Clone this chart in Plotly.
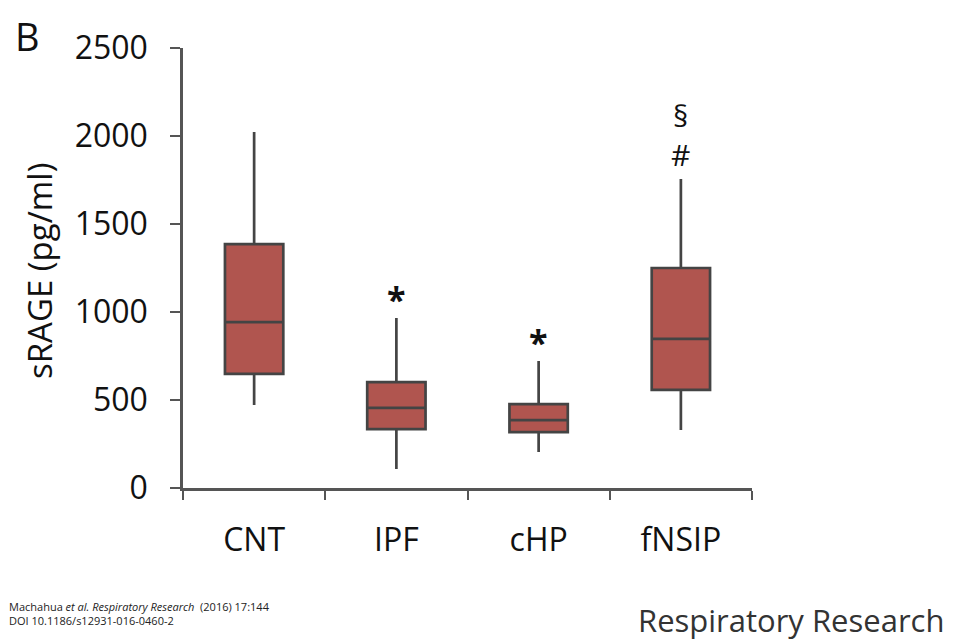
import plotly.graph_objects as go

categories = ["CNT", "IPF", "cHP", "fNSIP"]
lower_whisker = [472, 108, 205, 330]
q1_values = [648, 335, 318, 557]
median_values = [943, 455, 386, 847]
q3_values = [1386, 602, 477, 1250]
upper_whisker = [2023, 966, 722, 1756]
sig_labels = ["", "*", "*", "§<br>#"]
y_ticks = [0, 500, 1000, 1500, 2000, 2500]

# page body has an 8px margin; figure coords = screen coords - 8
OFF = 8
W, H = 953 - OFF, 644 - OFF
L, T = 183 - OFF, 48 - OFF
pw, ph = 569, 440
R, B = W - L - pw, H - T - ph

xpos = [i + 0.5 for i in range(len(categories))]

fig = go.Figure()
fig.add_trace(go.Box(
    x=xpos, q1=q1_values, median=median_values, q3=q3_values,
    lowerfence=lower_whisker, upperfence=upper_whisker,
    width=0.41, whiskerwidth=0,
    fillcolor="#B0554F", line=dict(color="#444444", width=2.7),
    boxpoints=False, hoverinfo="skip", showlegend=False,
))

font = "Open Sans, DejaVu Sans, sans-serif"
narrow = "Liberation Sans Narrow, Open Sans, sans-serif"
ann = []
for x, top, lab in zip(xpos, upper_whisker, sig_labels):
    if lab:
        star = lab == "*"
        ann.append(dict(x=x, y=top, xref="x", yref="y", text=("<b>*</b>" if star else lab),
                        showarrow=False, yanchor="bottom", yshift=(-6 if star else 2),
                        font=dict(family=font, size=(34 if star else 30), color="#111")))

def px(x):
    return (x - OFF - L) / pw

def py(y):
    return (T + ph - (y - OFF)) / ph

ann.append(dict(x=px(39), y=py(271), xref="paper", yref="paper", text="sRAGE (pg/ml)",
                textangle=-90, showarrow=False, xanchor="center", yanchor="middle",
                font=dict(family=font, size=33, color="#111")))
ann.append(dict(x=px(13), y=py(8), xref="paper", yref="paper", text="B",
                showarrow=False, xanchor="left", yanchor="top",
                font=dict(family=font, size=38, color="#111")))
ann.append(dict(x=px(7), y=py(613), xref="paper", yref="paper",
                text="Machahua <i>et al. Respiratory Research</i>  (2016) 17:144<br>DOI 10.1186/s12931-016-0460-2",
                showarrow=False, xanchor="left", yanchor="middle", align="left",
                font=dict(family=narrow, size=11, color="#222")))
ann.append(dict(x=px(946), y=py(620), xref="paper", yref="paper", text="Respiratory Research",
                showarrow=False, xanchor="right", yanchor="middle",
                font=dict(family=narrow, size=31, color="#333")))

fig.update_layout(
    width=W, height=H, margin=dict(l=L, r=R, t=T, b=B),
    paper_bgcolor="white", plot_bgcolor="white",
    annotations=ann,
    xaxis=dict(range=[0, 4], tickvals=xpos, ticktext=categories, ticks="",
               showline=True, linecolor="#555", linewidth=2.5, showgrid=False, zeroline=False,
               tickfont=dict(family=font, size=32, color="#111"), ticklabelstandoff=22,
               minor=dict(tickmode="linear", tick0=0, dtick=1, ticks="outside", ticklen=9,
                          tickwidth=2, tickcolor="#555", showgrid=False)),
    yaxis=dict(range=[0, 2500], tickvals=y_ticks, ticks="outside", ticklen=10, tickwidth=2,
               tickcolor="#555", showline=True, linecolor="#555", linewidth=2.5,
               showgrid=False, zeroline=False, ticklabelstandoff=16,
               tickfont=dict(family=font, size=32, color="#111")),
)

fig.write_html("out.html")
